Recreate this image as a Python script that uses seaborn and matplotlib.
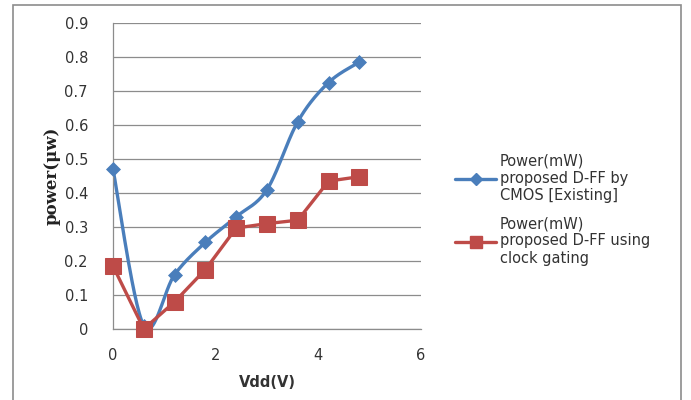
import numpy as np
import pandas as pd
import seaborn as sns
import matplotlib
matplotlib.use("Agg")
import matplotlib.pyplot as plt
from matplotlib.patches import Rectangle
from matplotlib.lines import Line2D

vdd = [0, 0.6, 1.2, 1.8, 2.4, 3.0, 3.6, 4.2, 4.8]
power_cmos = [0.47, 0.01, 0.16, 0.255, 0.33, 0.41, 0.61, 0.725, 0.785]
power_clock = [0.185, 0.0, 0.08, 0.175, 0.297, 0.31, 0.32, 0.435, 0.448]
label_cmos = "Power(mW)\nproposed D-FF by\nCMOS [Existing]"
label_clock = "Power(mW)\nproposed D-FF using\nclock gating"
yticks = [0, 0.1, 0.2, 0.3, 0.4, 0.5, 0.6, 0.7, 0.8, 0.9]
xticks = [0, 2, 4, 6]

blue = "#4a7ebb"
red = "#be4b48"

def smooth(x, y, n=30):
    x = np.asarray(x, float); y = np.asarray(y, float)
    px = np.concatenate([[x[0]], x, [x[-1]]])
    py = np.concatenate([[y[0]], y, [y[-1]]])
    ox, oy = [], []
    t = np.linspace(0, 1, n)
    for i in range(1, len(px) - 2):
        p0 = np.array([px[i], py[i]]); p3 = np.array([px[i+1], py[i+1]])
        c1 = p0 + (np.array([px[i+1], py[i+1]]) - np.array([px[i-1], py[i-1]])) / 6
        c2 = p3 - (np.array([px[i+2], py[i+2]]) - np.array([px[i], py[i]])) / 6
        b = ((1-t)**3)[:, None]*p0 + (3*(1-t)**2*t)[:, None]*c1 + (3*(1-t)*t**2)[:, None]*c2 + (t**3)[:, None]*p3
        ox.extend(b[:, 0]); oy.extend(b[:, 1])
    return ox, oy

sns.set_theme(style="white")
fig = plt.figure(figsize=(6.91, 4.0), dpi=100)
fig.patches.append(Rectangle((13/691, -0.1), (681-13)/691, 1.1 - 5/400, transform=fig.transFigure,
                             fill=False, edgecolor="#8c8c8c", linewidth=1.2))
ax = fig.add_axes([113/691, 1-329/400, (421-113)/691, (329-23)/400])

sx, sy = smooth(vdd, power_cmos)
df_s = pd.DataFrame({"x": sx, "y": sy})
sns.lineplot(data=df_s, x="x", y="y", ax=ax, color=blue, linewidth=2.4, sort=False, estimator=None)
df1 = pd.DataFrame({"x": vdd, "y": power_cmos})
sns.scatterplot(data=df1, x="x", y="y", ax=ax, color=blue, marker="D", s=50, edgecolor=blue,
                zorder=5, clip_on=False)
df2 = pd.DataFrame({"x": vdd, "y": power_clock})
sns.lineplot(data=df2, x="x", y="y", ax=ax, color=red, linewidth=2.4, marker="s", markersize=11,
             markeredgecolor=red, sort=False, estimator=None, zorder=6, clip_on=False)

ax.set_xlim(0, 6)
ax.set_ylim(0, 0.9)
ax.set_xticks(xticks)
ax.set_yticks(yticks)
ax.set_xticklabels([str(v) for v in xticks], fontsize=10.5, color="#333333")
ax.set_yticklabels(["0"] + [f"{v:.1f}" for v in yticks[1:]], fontsize=10.5, color="#333333")
ax.tick_params(axis="x", pad=8)
ax.tick_params(axis="y", pad=12)
ax.yaxis.grid(True, color="#8c8c8c", linewidth=0.9)
ax.xaxis.grid(False)
for s in ["top", "right"]:
    ax.spines[s].set_visible(False)
for s in ["left", "bottom"]:
    ax.spines[s].set_color("#8c8c8c")
    ax.spines[s].set_linewidth(0.9)
ax.set_xlabel("Vdd(V)", fontsize=10.5, fontweight="bold", color="#333333", labelpad=8)
ax.set_ylabel("power(μw)", fontsize=12, fontweight="bold", family="DejaVu Serif", color="#222222", labelpad=3)

handles = [Line2D([0], [0], color=blue, linewidth=2.4, marker="D", markersize=6),
           Line2D([0], [0], color=red, linewidth=2.4, marker="s", markersize=9)]
fig.legend(handles, [label_cmos, label_clock], loc="upper left", bbox_to_anchor=(442/691, 1-140/400),
           frameon=False, fontsize=10.5, handlelength=2.8, labelspacing=0.9, handletextpad=0.25,
           labelcolor="#333333")

fig.savefig("out.png", dpi=100)
